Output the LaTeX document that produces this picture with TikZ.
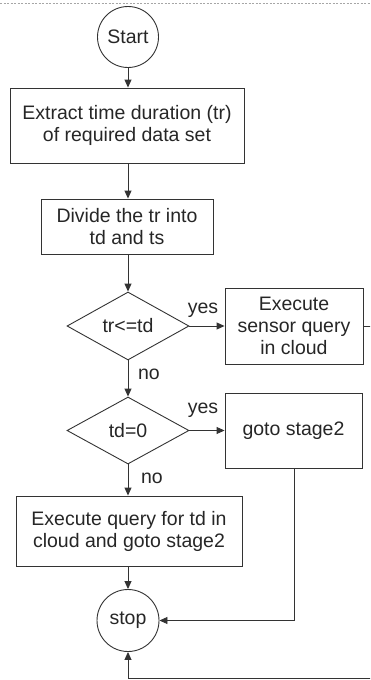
\documentclass[tikz,border=0pt]{standalone}
\usepackage{fontspec}
\setmainfont{Liberation Sans}
\usetikzlibrary{shapes.geometric,arrows.meta}
\begin{document}
\begin{tikzpicture}[x=1pt,y=-1pt,
  every node/.style={font=\fontsize{19.5}{22}\selectfont, text=black!85},
  ln/.style={draw=black!80, line width=0.9pt},
  arr/.style={ln, -{Triangle[length=8pt,width=7pt]}},
  term/.style={circle, ln, minimum size=61pt, inner sep=0pt},
  proc/.style={rectangle, ln, inner sep=0pt, align=center},
  dec/.style={diamond, ln, inner sep=0pt, minimum width=122pt, minimum height=68pt},
  lab/.style={inner sep=0pt}
]
\clip (0,0) rectangle (370,680);
\draw[black!35, line width=0.6pt, dash pattern=on 2pt off 1.5pt] (0,3) -- (370,3);

\node[term] (start) at (128,37) {Start};
\node[proc, minimum width=234pt, minimum height=75pt] (b1) at (127,125.5) {Extract time duration (tr)\\of required data set};
\node[proc, minimum width=172pt, minimum height=55pt] (b2) at (127,226.5) {Divide the tr into\\td and ts};
\node[dec] (d1) at (128,326) {tr<=td};
\node[proc, minimum width=138pt, minimum height=76pt] (b3) at (294,326) {Execute\\sensor query\\in cloud};
\node[dec, minimum height=67pt] (d2) at (128,430.5) {td=0};
\node[proc, minimum width=137pt, minimum height=75pt] (b4) at (293.5,430.5) {goto stage2};
\node[proc, minimum width=226pt, minimum height=70pt] (b5) at (129,531) {Execute query for td in\\cloud and goto stage2};
\node[term, minimum size=62pt] (stop) at (128,620.5) {stop};

\node[lab] (y1) at (203,310) {yes};
\node[lab] (n1) at (149,374) {no};
\node[lab] (y2) at (203,410) {yes};
\node[lab] (n2) at (152,478) {no};

\coordinate (r1) at (378,326);
\coordinate (r2) at (378,678);

\draw[arr] (start) -- (start.south |- b1.north);
\draw[arr] (b1.south -| start) -- (b2.north -| start);
\draw[arr] (b2.south -| d1) -- (d1.north);
\draw[arr] (d1.east) -- (b3.west);
\draw[arr] (d1.south) -- (d2.north);
\draw[arr] (d2.east) -- (b4.west);
\draw[arr] (d2.south) -- (b5.north -| d2);
\draw[arr] (b5.south -| stop) -- (stop.north);
\draw[arr] (b4.south -| 294,0) |- (stop.east);
\draw[arr] (b3.east) -- (r1) -- (r2) -| (stop.south);
\end{tikzpicture}
\end{document}
